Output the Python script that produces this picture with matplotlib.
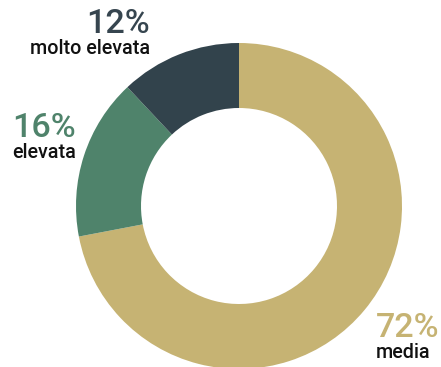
import matplotlib.pyplot as plt

# Distribution of risk classes
labels = ['media', 'elevata', 'molto elevata']
shares = [72, 16, 12]
colors = ['#c6b373', '#4f836b', '#32434c']
pct_colors = ['#c6b373', '#4f836b', '#36454f']

plt.rcParams['font.family'] = ['Roboto', 'DejaVu Sans']

fig = plt.figure(figsize=(4.41, 3.67), dpi=100)
ax = fig.add_axes([0, 0, 1, 1])

# donut, clockwise from the top (y axis is flipped below)
ax.pie(shares, colors=colors, startangle=-90, counterclock=True,
       center=(239, 206), radius=163,
       wedgeprops=dict(width=65, edgecolor='none'))

ax.set_xlim(0, 441)
ax.set_ylim(367, 0)
ax.set_aspect('equal')
ax.axis('off')

# percent + label, anchored in pixel space
pos = {'media': (376, 'left'), 'elevata': (12, 'left'), 'molto elevata': (150, 'right')}
base = {'media': 337, 'elevata': 137, 'molto elevata': 33}
for lab, val, c in zip(labels, shares, pct_colors):
    x, ha = pos[lab]
    y = base[lab]
    ax.text(x, y, '%d%%' % val, color=c, fontsize=24.5, fontweight='medium',
            ha=ha, va='baseline')
    ax.text(x, y + 21, lab, color='#111111', fontsize=14.2, fontweight='medium',
            ha=ha, va='baseline')

fig.savefig('out.png', dpi=100)
